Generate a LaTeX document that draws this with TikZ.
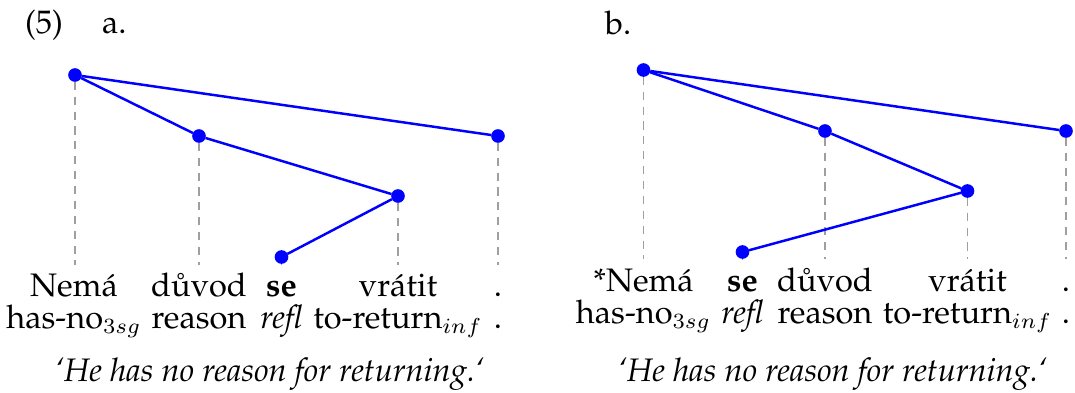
\documentclass[tikz,border=0pt]{standalone}
\usepackage[T1]{fontenc}
\usepackage{palatino}
\usepackage{amsmath}
\usepackage{tikz}

\begin{document}
\begin{tikzpicture}[
    x=0.3226pt, y=-0.3226pt,
    every node/.style={inner sep=0pt, outer sep=0pt, font=\fontsize{10.5}{12.5}\selectfont},
    dot/.style={circle, fill=blue, minimum size=4.4pt},
    arc/.style={draw=blue, line width=0.8pt},
    proj/.style={draw=gray!75, line width=0.4pt, dash pattern=on 2.6pt off 2.2pt},
    word/.style={anchor=base},
    label/.style={anchor=base west}
]
\useasboundingbox (0,0) rectangle (1075,392);

% Example number and sub-labels
\node[label] (exnum) at (25,33) {(5)};
\node[label] (sub-a) at (102,33) {a.};
\node[label] (sub-b) at (605,34) {b.};

% --- (a) tree nodes
\node[dot] (a-nema)   at (75,75)   {};
\node[dot] (a-duvod)  at (199,136) {};
\node[dot] (a-vratit) at (398,196) {};
\node[dot] (a-se)     at (281.5,257) {};
\node[dot] (a-stop)   at (498,136) {};
\coordinate (a-foot) at (0,265);

% --- (a) words and glosses
\node[word] (a-nema-w)   at (74,296)    {Nem\'a};
\node[word] (a-duvod-w)  at (199,296)   {d\r{u}vod};
\node[word] (a-se-w)     at (281.5,296) {\textbf{se}};
\node[word] (a-vratit-w) at (398,296)   {vr\'atit};
\node[word] (a-stop-w)   at (498,296)   {.};
\node[word] (a-nema-g)   at (74,328)    {has-no$_{3sg}$};
\node[word] (a-duvod-g)  at (199,328)   {reason};
\node[word] (a-se-g)     at (281.5,328) {\textit{refl}};
\node[word] (a-vratit-g) at (398,328)   {to-return$_{inf}$};
\node[word] (a-stop-g)   at (498,328)   {.};
\node[label] (a-trans) at (55,381) {\textit{`He has no reason for returning.`}};

% projection lines (a)
\draw[proj] (a-nema) -- (a-nema |- a-foot);
\draw[proj] (a-duvod) -- (a-duvod |- a-foot);
\draw[proj] (a-vratit) -- (a-vratit |- a-foot);
\draw[proj] (a-se) -- (a-se |- a-foot);
\draw[proj] (a-stop) -- (a-stop |- a-foot);

% dependencies (a)
\draw[arc] (a-nema) -- (a-duvod);
\draw[arc] (a-nema) -- (a-stop);
\draw[arc] (a-duvod) -- (a-vratit);
\draw[arc] (a-vratit) -- (a-se);

% --- (b) tree nodes
\node[dot] (b-nema)   at (643.5,70)  {};
\node[dot] (b-duvod)  at (825,131)   {};
\node[dot] (b-vratit) at (967.5,191) {};
\node[dot] (b-se)     at (742.5,252) {};
\node[dot] (b-stop)   at (1066,131)  {};
\coordinate (b-foot) at (0,259);

% --- (b) words and glosses
\node[word] (b-nema-w)   at (643.5,291) {*Nem\'a};
\node[word] (b-se-w)     at (742.5,291) {\textbf{se}};
\node[word] (b-duvod-w)  at (825,291)   {d\r{u}vod};
\node[word] (b-vratit-w) at (967.5,291) {vr\'atit};
\node[word] (b-stop-w)   at (1066,291)  {.};
\node[word] (b-nema-g)   at (643.5,323) {has-no$_{3sg}$};
\node[word] (b-se-g)     at (742.5,323) {\textit{refl}};
\node[word] (b-duvod-g)  at (825,323)   {reason};
\node[word] (b-vratit-g) at (967.5,323) {to-return$_{inf}$};
\node[word] (b-stop-g)   at (1066,323)  {.};
\node[label] (b-trans) at (618,381) {\textit{`He has no reason for returning.`}};

% projection lines (b)
\draw[proj] (b-nema) -- (b-nema |- b-foot);
\draw[proj] (b-duvod) -- (b-duvod |- b-foot);
\draw[proj] (b-vratit) -- (b-vratit |- b-foot);
\draw[proj] (b-se) -- (b-se |- b-foot);
\draw[proj] (b-stop) -- (b-stop |- b-foot);

% dependencies (b)
\draw[arc] (b-nema) -- (b-duvod);
\draw[arc] (b-nema) -- (b-stop);
\draw[arc] (b-duvod) -- (b-vratit);
\draw[arc] (b-vratit) -- (b-se);
\end{tikzpicture}
\end{document}
